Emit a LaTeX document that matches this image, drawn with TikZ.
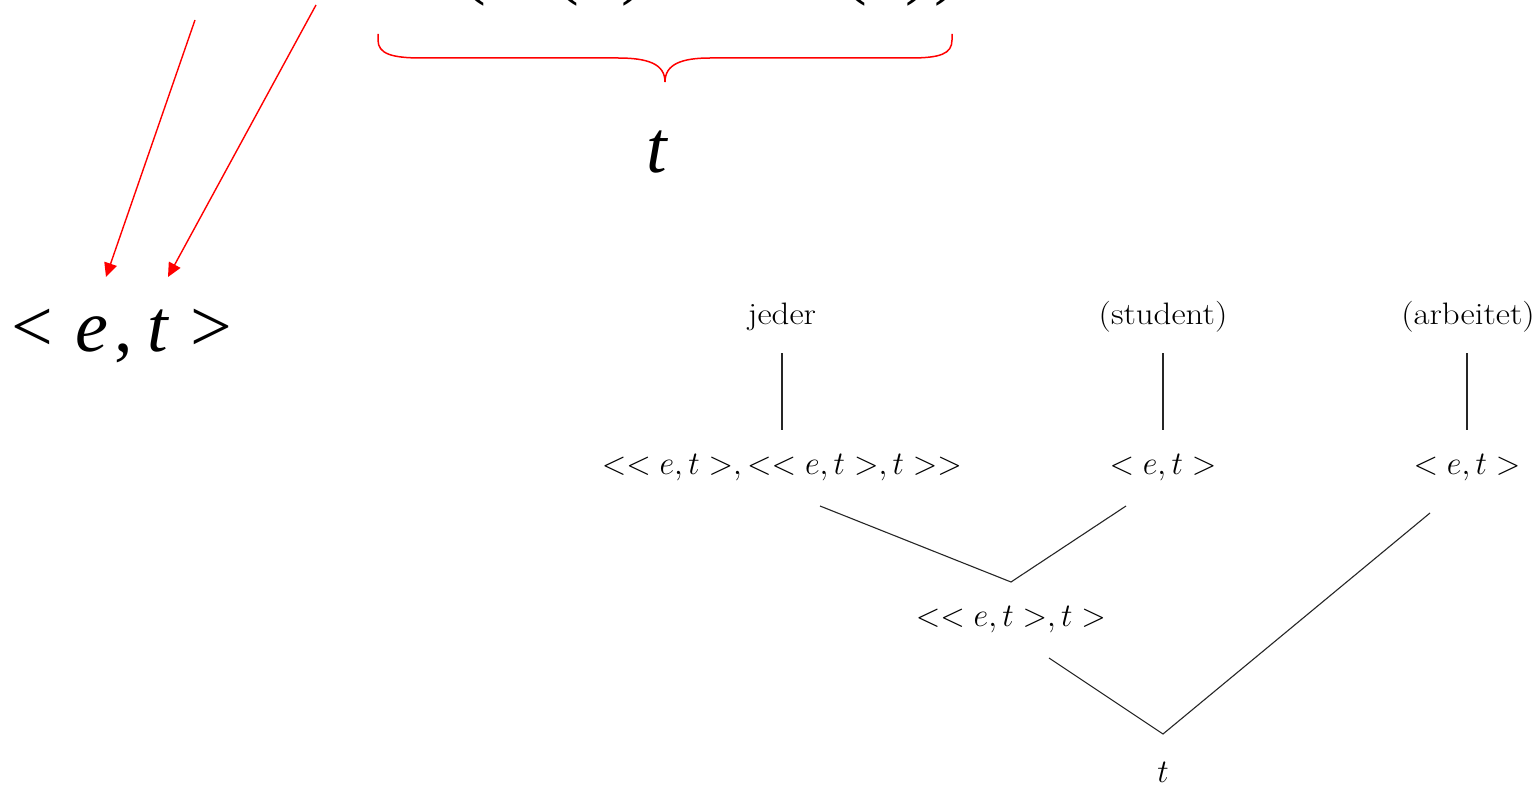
\documentclass[tikz,border=0pt]{standalone}
\usepackage{fontspec}
\usetikzlibrary{arrows.meta}
\newfontfamily\timesfont{Liberation Serif}
\begin{document}
\begin{tikzpicture}[x=1pt,y=-1pt,
  redarrow/.style={draw=red, line width=1.4pt, -{Triangle[length=14pt,width=13pt]}},
  redbrace/.style={draw=red, line width=1.5pt},
  bigtext/.style={font=\timesfont\fontsize{74}{80}\selectfont, inner sep=0pt},
  treelabel/.style={font=\fontsize{31}{34}\selectfont, inner sep=0pt, xscale=1.125},
  treemath/.style={font=\fontsize{24.88}{28}\selectfont, inner sep=0pt, xscale=1.293, yscale=1.326},
  treeline/.style={draw=black!85, line width=1.1pt}]
\useasboundingbox[fill=white] (0,0) rectangle (1537,786);
% cut-off formula fragments at the top
\foreach \px/\ch [count=\i] in {474/(,567/(,634/),855/(,918/),947/)}
  \node[bigtext, anchor=base] (frag\i) at (\px,-9) {\ch};
% brace
\draw[redbrace] (378,34) -- (378,40) .. controls (378,54) and (392,58) .. (422,58)
  -- (618,58) .. controls (648,58) and (665,64) .. (665,82)
  .. controls (665,64) and (682,58) .. (710,58)
  -- (910,58) .. controls (940,58) and (952,54) .. (952,40) -- (952,34);
\node[bigtext, font=\timesfont\itshape\fontsize{74}{80}\selectfont] (tbig) at (657,152) {t};
% big <e,t>
\node[bigtext, anchor=base west] (etbig) at (11,352)
  {< \hspace{4pt}\textit{e}\hspace{6pt},\hspace{15pt}\textit{t}\hspace{2pt} >};
\coordinate (s1) at (195,20);
\coordinate (s2) at (316,5);
\coordinate (e1) at (106,277);
\coordinate (e2) at (168,277);
\draw[redarrow] (s1) -- (e1);
\draw[redarrow] (s2) -- (e2);
% tree
\node[treelabel] (jeder) at (782,317) {jeder};
\node[treelabel] (student) at (1163,317) {(student)};
\node[treelabel] (arbeitet) at (1468,317) {(arbeitet)};
\node[treemath] (tj) at (782,468) {$<< e,t >,<< e,t >,t >>$};
\node[treemath] (ts) at (1163,468) {$< e,t >$};
\node[treemath] (ta) at (1467,468) {$< e,t >$};
\node[treemath] (tjs) at (1011,620) {$<< e,t >,t >$};
\node[treemath] (troot) at (1163,772) {$t$};
\coordinate (v1a) at (782,353); \coordinate (v1b) at (782,430);
\coordinate (v2a) at (1163,353); \coordinate (v2b) at (1163,430);
\coordinate (v3a) at (1467,353); \coordinate (v3b) at (1467,430);
\draw[treeline] (v1a) -- (v1b);
\draw[treeline] (v2a) -- (v2b);
\draw[treeline] (v3a) -- (v3b);
\coordinate (b1l) at (820,506); \coordinate (b1r) at (1126,506); \coordinate (b1m) at (1011,582);
\coordinate (b2l) at (1049,658); \coordinate (b2r) at (1430,513); \coordinate (b2m) at (1163,734);
\draw[treeline] (b1l) -- (b1m) -- (b1r);
\draw[treeline] (b2l) -- (b2m) -- (b2r);
\end{tikzpicture}
\end{document}
